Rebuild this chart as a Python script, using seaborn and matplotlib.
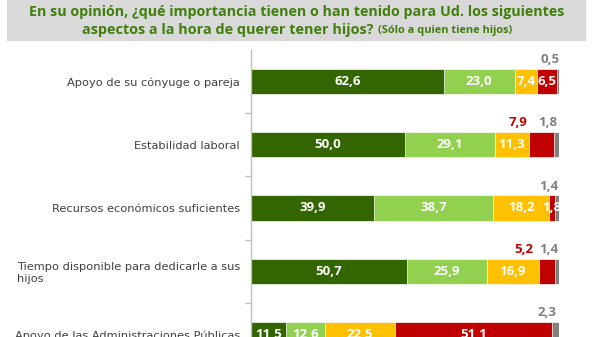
import matplotlib
matplotlib.use("Agg")
import matplotlib.pyplot as plt
import seaborn as sns
import pandas as pd
import numpy as np

categories = [
    "Apoyo de su cónyuge o pareja",
    "Estabilidad laboral",
    "Recursos económicos suficientes",
    "Tiempo disponible para dedicarle a sus\nhijos",
    "Apoyo de las Administraciones Públicas",
]
mucha = [62.6, 50.0, 39.9, 50.7, 11.5]
bastante = [23.0, 29.1, 38.7, 25.9, 12.6]
poca = [7.4, 11.3, 18.2, 16.9, 22.5]
nada = [6.5, 7.9, 1.8, 5.2, 51.1]
nsnc = [0.5, 1.8, 1.4, 1.4, 2.3]

series_names = ["Mucha", "Bastante", "Poca", "Nada", "NS/NC"]
series_vals = [mucha, bastante, poca, nada, nsnc]
colors = ["#336600", "#92d050", "#ffc000", "#c00000", "#808080"]
# labels drawn above the bar (series index, category index)
above = {(4, 0), (3, 1), (4, 1), (4, 2), (3, 3), (4, 3), (4, 4)}

sns.set_theme(style="white")
plt.rcParams["font.family"] = ["Open Sans", "DejaVu Sans"]

W, H = 600, 337
fig = plt.figure(figsize=(6, 3.37), dpi=100)
ax = fig.add_axes([251 / W, 1 - 366 / H, 308 / W, 316 / H])

cum = np.zeros(len(categories))
cums = []
for vals in series_vals:
    cum = cum + np.array(vals)
    cums.append(cum.copy())

for i in reversed(range(len(series_vals))):
    d = pd.DataFrame({"cat": categories, "val": cums[i]})
    sns.barplot(data=d, y="cat", x="val", orient="h", color=colors[i],
                width=0.4, ax=ax, edgecolor="white", linewidth=0.5,
                saturation=1)

for i, vals in enumerate(series_vals):
    for j, v in enumerate(vals):
        xc = cums[i][j] - v / 2
        lab = f"{v:.1f}".replace(".", ",")
        if (i, j) in above:
            col = "#c00000" if i == 3 else "#808080"
            dx = -17 if i == 3 else -6
            ax.annotate(lab, (xc, j - 0.2), xytext=(dx, 2),
                        textcoords="offset points", ha="center", va="bottom",
                        color=col, fontsize=9.5, fontweight="bold")
        else:
            ax.text(xc, j, lab, ha="center", va="center", color="white",
                    fontsize=9.5, fontweight="bold")

ax.set_xlim(0, 100)
ax.set_ylim(len(categories) - 0.5, -0.5)
ax.set_xlabel("")
ax.set_ylabel("")
ax.set_xticks([])
ax.set_yticks(range(len(categories)))
ax.set_yticklabels(categories, fontsize=8.2, color="#404040",
                   multialignment="left", family=["DejaVu Sans"])
ax.set_yticks(np.arange(0.5, len(categories) - 0.5, 1), minor=True)
ax.tick_params(axis="y", which="major", length=0, pad=8)
ax.tick_params(axis="y", which="minor", length=4, color="#bfbfbf",
               direction="out", left=True)
for s in ["top", "right", "bottom"]:
    ax.spines[s].set_visible(False)
ax.spines["left"].set_color("#bfbfbf")
ax.spines["left"].set_linewidth(1)

# title band
band = plt.Rectangle((7 / W, 1 - 40 / H), 578 / W, 40 / H,
                     transform=fig.transFigure, color="#d9d9d9", zorder=0)
fig.patches.append(band)
tcol = "#3f7f0a"

renderer = fig.canvas.get_renderer()


def fit(t, target_px):
    bb = t.get_window_extent(renderer)
    t.set_fontsize(t.get_fontsize() * target_px / bb.width)


t1 = fig.text(297 / W, 1 - 12 / H,
              "En su opinión, ¿qué importancia tienen o han tenido para Ud. los siguientes",
              ha="center", va="center", fontsize=10, fontweight="bold", color=tcol)
fit(t1, 537)
t2 = fig.text(374 / W, 1 - 30 / H, "aspectos a la hora de querer tener hijos?",
              ha="right", va="center", fontsize=10, fontweight="bold", color=tcol)
fit(t2, 292)
t3 = fig.text(378 / W, 1 - 31 / H, "(Sólo a quien tiene hijos)",
              ha="left", va="center", fontsize=7, fontweight="bold", color=tcol)
fit(t3, 134)

fig.savefig("out.png", dpi=100)
